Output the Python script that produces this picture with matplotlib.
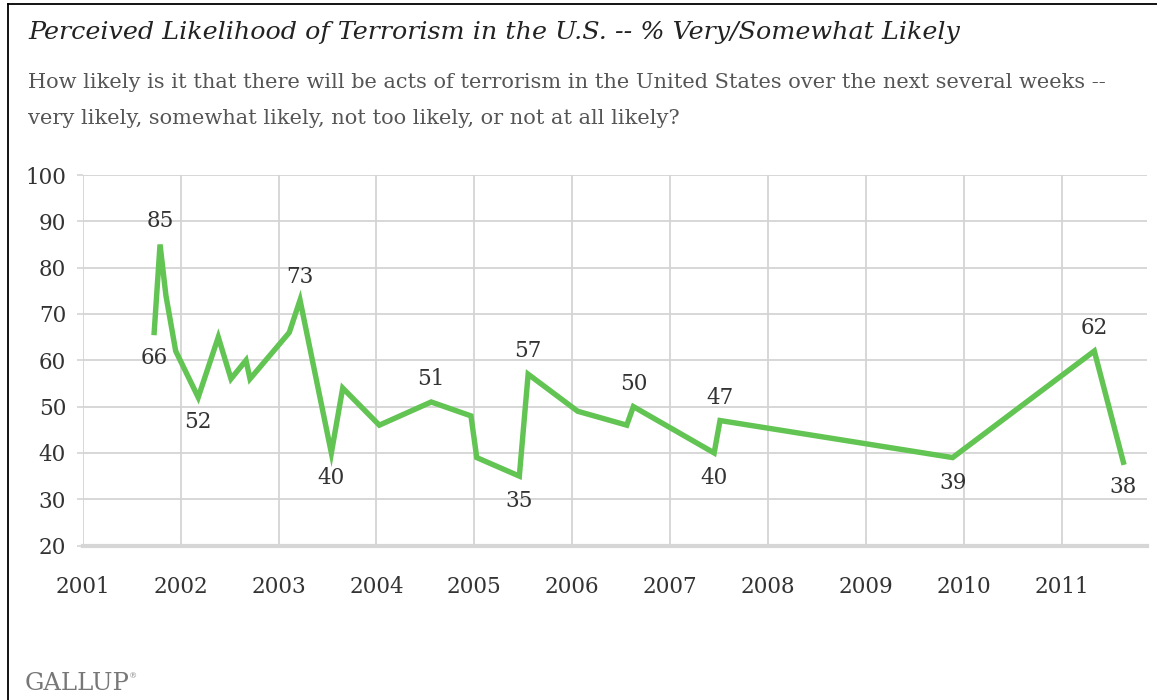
import matplotlib
matplotlib.use('Agg')
import matplotlib.pyplot as plt
from matplotlib.lines import Line2D

# survey dates as decimal years, share saying very/somewhat likely (%)
dates = [2001.73, 2001.79, 2001.85, 2001.95, 2002.18, 2002.385, 2002.515, 2002.668,
         2002.709, 2003.11, 2003.22, 2003.54, 2003.656, 2004.03, 2004.56, 2004.966,
         2005.025, 2005.46, 2005.55, 2006.056, 2006.557, 2006.625, 2007.45, 2007.51,
         2009.886, 2011.333, 2011.63]
values = [66, 85, 74, 62, 52, 65, 56, 60,
          56, 66, 73, 40, 54, 46, 51, 48,
          39, 35, 57, 49, 46, 50, 40, 47,
          39, 62, 38]

# which points carry a label, and whether it goes above or below the line
labeled = {0: 'below', 1: 'above', 4: 'below', 10: 'above', 11: 'below', 14: 'above',
           17: 'below', 18: 'above', 21: 'above', 22: 'below', 23: 'above',
           24: 'below', 25: 'above', 26: 'below'}

years = list(range(2001, 2012))
yticks = [20, 30, 40, 50, 60, 70, 80, 90, 100]

green = '#62c452'
grid = '#d4d4d4'
serif = 'DejaVu Serif'

fig = plt.figure(figsize=(11.57, 7), dpi=100)
fig.patch.set_facecolor('white')

# frame lines at top and left of the picture
fig.add_artist(Line2D([8 / 1157, 8 / 1157], [0, 1 - 4 / 700], color='black', lw=1.3,
                      transform=fig.transFigure))
fig.add_artist(Line2D([8 / 1157, 1], [1 - 4 / 700, 1 - 4 / 700], color='black', lw=1.3,
                      transform=fig.transFigure))

ax = fig.add_axes([82.7 / 1157, (700 - 545.6) / 700, (1146.7 - 82.7) / 1157, (545.6 - 175) / 700])
ax.plot(dates, values, color=green, lw=3.9, solid_joinstyle='miter', zorder=3)

for i, pos in labeled.items():
    dy = 23 if pos == 'above' else -25
    ax.annotate(str(values[i]), (dates[i], values[i]), xytext=(0, dy),
                textcoords='offset pixels', ha='center', va='center',
                fontsize=15.5, family=serif, color='#333333', zorder=4)

ax.set_xlim(2001, 2001 + (1146.7 - 82.7) / 97.9)
ax.set_ylim(20, 100)
ax.set_xticks(years)
ax.set_xticklabels([str(y) for y in years], family=serif, fontsize=15.5, color='#333333')
ax.set_yticks(yticks)
ax.set_yticklabels([str(v) for v in yticks], family=serif, fontsize=15.5, color='#333333')
ax.tick_params(axis='x', length=0, pad=22)
ax.tick_params(axis='y', length=4, width=1.2, color=grid, pad=8)
ax.grid(True, color=grid, lw=1.3, zorder=0)
ax.set_axisbelow(True)
for s in ['top', 'right', 'left']:
    ax.spines[s].set_visible(False)
ax.spines['bottom'].set_color('#d6d6d6')
ax.spines['bottom'].set_linewidth(3)

fig.text(28 / 1157, 1 - 33 / 700, 'Perceived Likelihood of Terrorism in the U.S. -- % Very/Somewhat Likely',
         family=serif, style='italic', fontsize=18.3, color='#222222', va='center')
fig.text(28 / 1157, 1 - 82 / 700,
         'How likely is it that there will be acts of terrorism in the United States over the next several weeks --',
         family=serif, fontsize=15, color='#555555', va='center')
fig.text(28 / 1157, 1 - 119 / 700, 'very likely, somewhat likely, not too likely, or not at all likely?',
         family=serif, fontsize=15, color='#555555', va='center')
fig.text(25 / 1157, 1 - 683 / 700, 'GALLUP', family=serif, fontsize=17.5, color='#777777', va='center')
fig.text(129 / 1157, 1 - 676 / 700, '\u00ae', family=serif, fontsize=6, color='#888888', va='center')

fig.savefig('out.png', dpi=100, facecolor='white')
